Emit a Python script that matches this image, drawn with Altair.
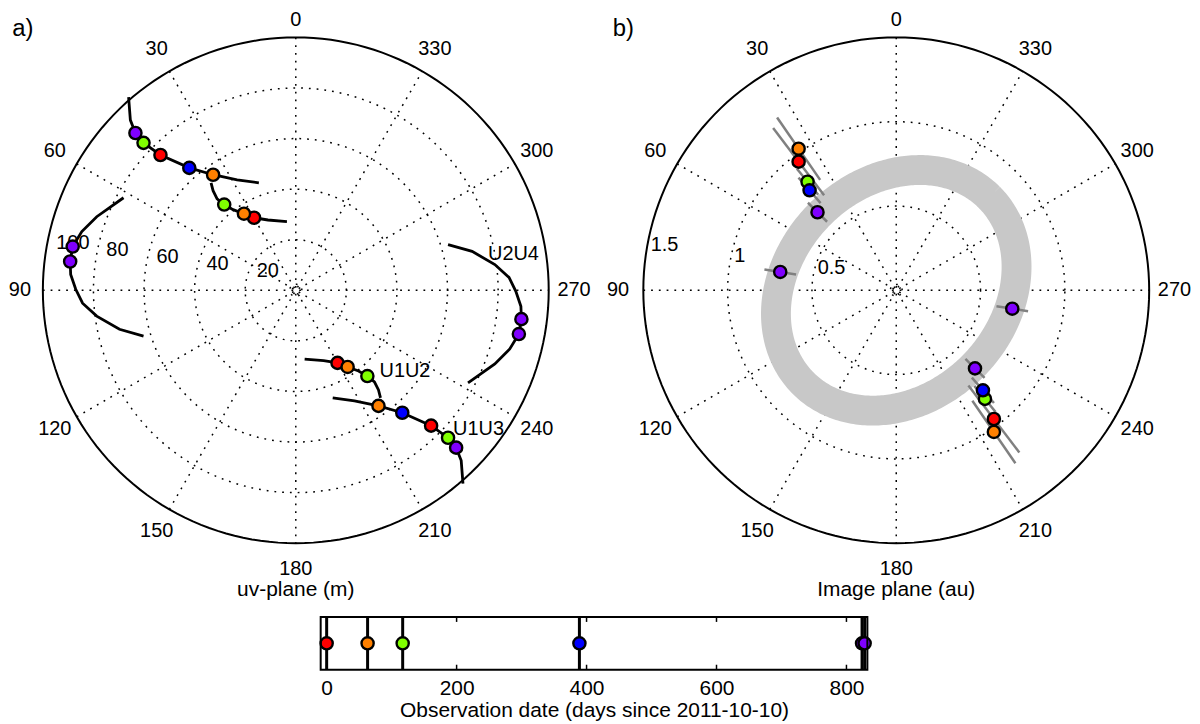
import altair as alt
import numpy as np
import pandas as pd

# ------------------------------------------------------------------ data
COLORS = {"red": "#ff0000", "orange": "#ff8000", "green": "#80ff00",
          "blue": "#0000ff", "purple": "#8000ff"}
EPOCH_ORDER = ["red", "orange", "green", "blue", "purple"]

# (a) uv-plane tracks in metres (x to the right, y up); the other half of
# each track is the point-symmetric (-u, -v) copy
u1u3_x = [14.6, 23.2, 32.7, 42.1, 53.5, 60.2, 63.4, 65.4, 66.1]
u1u3_y = [-42.5, -43.7, -45.7, -48.4, -53.5, -58.3, -62.2, -67.3, -76.4]
u1u2_x = [3.5, 11.0, 16.5, 20.5, 24.8, 28.3, 31.1, 32.7, 33.5]
u1u2_y = [-27.2, -27.8, -28.7, -30.3, -31.9, -33.9, -36.2, -39.4, -42.5]
u2u4_x = [60.2, 69.7, 78.7, 84.3, 87.0, 89.0, 89.2, 88.2, 84.6, 78.7, 68.1]
u2u4_y = [18.1, 15.4, 10.2, 5.1, -0.4, -6.3, -11.4, -17.3, -23.2, -29.1, -36.6]

uv_epoch = ["red", "orange", "green", "orange", "blue", "red", "green", "purple", "purple", "purple"]
uv_x = [16.5, 20.5, 28.3, 32.7, 42.1, 53.5, 60.2, 63.4, 89.2, 88.2]
uv_y = [-28.7, -30.3, -33.9, -45.7, -48.4, -53.5, -58.3, -62.2, -11.4, -17.3]

base_names = ["U2U4", "U1U2", "U1U3"]
base_lx = [76.0, 33.1, 62.2]
base_ly = [14.2, -31.9, -54.7]

# (b) image plane positions in au (one half, the other is the mirrored copy)
img_epoch = ["red", "orange", "green", "blue", "purple", "purple"]
img_x = [0.579, 0.579, 0.526, 0.514, 0.467, 0.688]
img_y = [-0.763, -0.840, -0.644, -0.593, -0.463, -0.109]
img_err = [0.25, 0.225, 0.10, 0.10, 0.08, 0.095]

# ring (projected annulus): semi-axes of ring mid-line (au), major-axis angle
ring_a, ring_b, ring_pa = 0.78, 0.64, 45.0

# observation dates (days since 2011-10-10)
obs_days = [0, 63, 117, 389, 824, 828]
obs_epoch = ["red", "orange", "green", "blue", "purple", "purple"]
day_ticks = [0, 200, 400, 600, 800]

# ------------------------------------------------------------------ layout
FONT = "Liberation Sans"
FS = 20          # polar tick labels
FT = 21          # titles / timeline
A_W, B_W, P_H = 578, 606, 595
CY = 281
A_PX = 2.54            # px per metre
B_PX = 254 / 1.5       # px per au
T_W, T_H = 549, 53


def polar_panel(rmax, rings, ring_labels, tiny, px, cx_local, width, lab_dx, lab_dy,
                letter, letter_xy, bottom_title, extra_layers_fn):
    xdom = [-cx_local / px, (width - cx_local) / px]
    ydom = [-(P_H - CY) / px, CY / px]
    xs = alt.Scale(domain=xdom, nice=False, zero=False)
    ys = alt.Scale(domain=ydom, nice=False, zero=False)

    def X(f):
        return alt.X(f, type="quantitative", scale=xs, axis=None)

    def Y(f):
        return alt.Y(f, type="quantitative", scale=ys, axis=None)

    # spokes
    sp = []
    for th in range(0, 180, 30):
        r = np.deg2rad(th)
        sp.append(dict(x=-rmax * np.sin(r), y=rmax * np.cos(r),
                       x2=rmax * np.sin(r), y2=-rmax * np.cos(r)))
    spokes = alt.Chart(pd.DataFrame(sp)).mark_rule(
        color="black", strokeWidth=1.5, strokeDash=[1.8, 6.0]).encode(
        x=X("x"), y=Y("y"), x2="x2", y2="y2")

    # rings
    t = np.deg2rad(np.arange(0, 361, 2))
    rr = []
    for k, r in enumerate(list(rings) + [tiny]):
        for i, tt in enumerate(t):
            rr.append(dict(ring=k, i=i, x=r * np.cos(tt), y=r * np.sin(tt)))
    ringl = alt.Chart(pd.DataFrame(rr)).mark_line(
        color="black", strokeWidth=1.5, strokeDash=[1.8, 6.0]).encode(
        x=X("x"), y=Y("y"), detail="ring:N", order="i:Q")

    outer = pd.DataFrame([dict(i=i, x=rmax * np.cos(tt), y=rmax * np.sin(tt))
                          for i, tt in enumerate(t)])
    outerl = alt.Chart(outer).mark_line(color="black", strokeWidth=2).encode(
        x=X("x"), y=Y("y"), order="i:Q")

    # angle labels (kept inside the drawing area)
    al = []
    for th in range(0, 360, 30):
        r = np.deg2rad(th)
        x = -1.1 * rmax * np.sin(r)
        y = 1.1 * rmax * np.cos(r)
        x = max(x, (-cx_local + 12) / px)
        y = min(y, (CY - 10) / px)
        al.append(dict(x=x, y=y, text=str(th)))
    angl = alt.Chart(pd.DataFrame(al)).mark_text(
        font=FONT, fontSize=FS, color="black", baseline="middle", align="center").encode(
        x=X("x"), y=Y("y"), text="text:N")

    # radius labels at 82 degrees
    r82 = np.deg2rad(82)
    rl = pd.DataFrame(dict(x=[-r * np.sin(r82) for r in rings + [rmax]],
                           y=[r * np.cos(r82) for r in rings + [rmax]],
                           text=ring_labels))
    radl = alt.Chart(rl).mark_text(
        font=FONT, fontSize=FS, color="black", align="left", baseline="middle",
        dx=lab_dx, dy=lab_dy).encode(x=X("x"), y=Y("y"), text="text:N")

    misc = pd.DataFrame(dict(x=[letter_xy[0], 0.0], y=[letter_xy[1], -(P_H - CY - 13) / px],
                             text=[letter, bottom_title], size=[24, FT]))
    miscl = alt.Chart(misc).mark_text(font=FONT, color="black", baseline="middle",
                                      align="center").encode(
        x=X("x"), y=Y("y"), text="text:N", size=alt.Size("size:Q", scale=None))

    layers = [spokes, ringl, outerl, angl, radl, miscl] + extra_layers_fn(X, Y)
    return alt.layer(*layers).properties(width=width, height=P_H)


# ---------- panel a extras
def a_extras(X, Y):
    rows = []
    for name, xs_, ys_ in [("U1U3", u1u3_x, u1u3_y), ("U1U2", u1u2_x, u1u2_y),
                           ("U2U4", u2u4_x, u2u4_y)]:
        for s, side in [(1, "p"), (-1, "m")]:
            for i, (x, y) in enumerate(zip(xs_, ys_)):
                rows.append(dict(track=name + side, i=i, x=s * x, y=s * y))
    tracks = alt.Chart(pd.DataFrame(rows)).mark_line(color="black", strokeWidth=2.8).encode(
        x=X("x"), y=Y("y"), detail="track:N", order="i:Q")

    pts = []
    for e, x, y in zip(uv_epoch, uv_x, uv_y):
        for s in (1, -1):
            pts.append(dict(k=EPOCH_ORDER.index(e), fill=COLORS[e], x=s * x, y=s * y))
    pdf = pd.DataFrame(pts).sort_values("k", kind="stable")
    points = alt.Chart(pdf).mark_circle(size=150, opacity=1, stroke="black",
                                        strokeWidth=2.4).encode(
        x=X("x"), y=Y("y"), fill=alt.Fill("fill:N", scale=None))

    bl = pd.DataFrame(dict(x=base_lx, y=base_ly, text=base_names))
    blab = alt.Chart(bl).mark_text(font=FONT, fontSize=FS, color="black", align="left",
                                   baseline="middle").encode(x=X("x"), y=Y("y"), text="text:N")
    return [tracks, blab, points]


# ---------- panel b extras
def b_extras(X, Y):
    t = np.linspace(0, 2 * np.pi, 361)
    pa = np.deg2rad(ring_pa)
    rx = ring_a * np.cos(t) * np.cos(pa) - ring_b * np.sin(t) * np.sin(pa)
    ry = ring_a * np.cos(t) * np.sin(pa) + ring_b * np.sin(t) * np.cos(pa)
    ring = alt.Chart(pd.DataFrame(dict(i=np.arange(len(t)), x=rx, y=ry))).mark_line(
        color="#c8c8c8", strokeWidth=30, strokeJoin="round").encode(
        x=X("x"), y=Y("y"), order="i:Q")

    bars, pts = [], []
    for e, x, y, err in zip(img_epoch, img_x, img_y, img_err):
        r = np.hypot(x, y)
        ux, uy = x / r, y / r
        for s in (1, -1):
            bars.append(dict(x=s * (x - err * ux), y=s * (y - err * uy),
                             x2=s * (x + err * ux), y2=s * (y + err * uy)))
            pts.append(dict(k=EPOCH_ORDER.index(e), fill=COLORS[e], x=s * x, y=s * y))
    errl = alt.Chart(pd.DataFrame(bars)).mark_rule(color="#808080", strokeWidth=2.5).encode(
        x=X("x"), y=Y("y"), x2="x2", y2="y2")
    pdf = pd.DataFrame(pts).sort_values("k", kind="stable")
    points = alt.Chart(pdf).mark_circle(size=150, opacity=1, stroke="black",
                                        strokeWidth=2.4).encode(
        x=X("x"), y=Y("y"), fill=alt.Fill("fill:N", scale=None))
    return [ring, errl, points]


panel_a = polar_panel(100, [20, 40, 60, 80], ["20", "40", "60", "80", "100"], 2.4,
                      A_PX, 289, A_W, 11, -12.5, "a)", (-107.9, 103.5), "uv-plane (m)", a_extras)
panel_b = polar_panel(1.5, [0.5, 1.0], ["0.5", "1", "1.5"], 0.035,
                      B_PX, 314, B_W, 5, -10.5, "b)", (-1.618, 1.547), "Image plane (au)", b_extras)

# ---------- timeline
tx = alt.Scale(domain=[-9.2, 832.2], nice=False, zero=False)
obs = pd.DataFrame(dict(day=obs_days, fill=[COLORS[e] for e in obs_epoch]))
ticks = pd.DataFrame(dict(day=day_ticks))
one = pd.DataFrame(dict(a=[0]))

xaxis = alt.Axis(values=day_ticks, tickSize=0, ticks=False, domain=False, grid=False,
                 labelFontSize=FT, labelFont=FONT, labelColor="black", labelPadding=8,
                 labelFlush=False, format="d",
                 title="Observation date (days since 2011-10-10)", titleFontSize=FT,
                 titleFont=FONT, titleFontWeight="normal", titleColor="black", titlePadding=1)

frame = alt.Chart(one).mark_rect(fillOpacity=0, stroke="black", strokeWidth=2).encode(
    x=alt.value(0), x2=alt.value(T_W), y=alt.value(0), y2=alt.value(T_H))
tick_top = alt.Chart(ticks).mark_rule(color="black", strokeWidth=1.5).encode(
    x=alt.X("day:Q", scale=tx, axis=xaxis), y=alt.value(0), y2=alt.value(5))
tick_bot = alt.Chart(ticks).mark_rule(color="black", strokeWidth=1.5).encode(
    x=alt.X("day:Q", scale=tx), y=alt.value(T_H - 5), y2=alt.value(T_H))
vlines = alt.Chart(obs).mark_rule(color="black", strokeWidth=3).encode(
    x=alt.X("day:Q", scale=tx), y=alt.value(0), y2=alt.value(T_H))
tdots = alt.Chart(obs).mark_circle(size=150, opacity=1, stroke="black", strokeWidth=2.4).encode(
    x=alt.X("day:Q", scale=tx), y=alt.value(T_H / 2), fill=alt.Fill("fill:N", scale=None))
timeline = alt.layer(tick_top, tick_bot, vlines, tdots, frame).properties(width=T_W, height=T_H)

spacer = alt.Chart(one).mark_point(opacity=0).encode(
    x=alt.X("a:Q", axis=None)).properties(width=314, height=T_H)

top = alt.hconcat(panel_a, panel_b, spacing=0, bounds="flush")
bottom = alt.hconcat(spacer, timeline, spacing=0, bounds="flush")
chart = alt.vconcat(top, bottom, spacing=12).properties(
    padding=0).configure(font=FONT).configure_view(stroke=None)

chart.save("out.html", embed_options={"renderer": "svg", "actions": False})
